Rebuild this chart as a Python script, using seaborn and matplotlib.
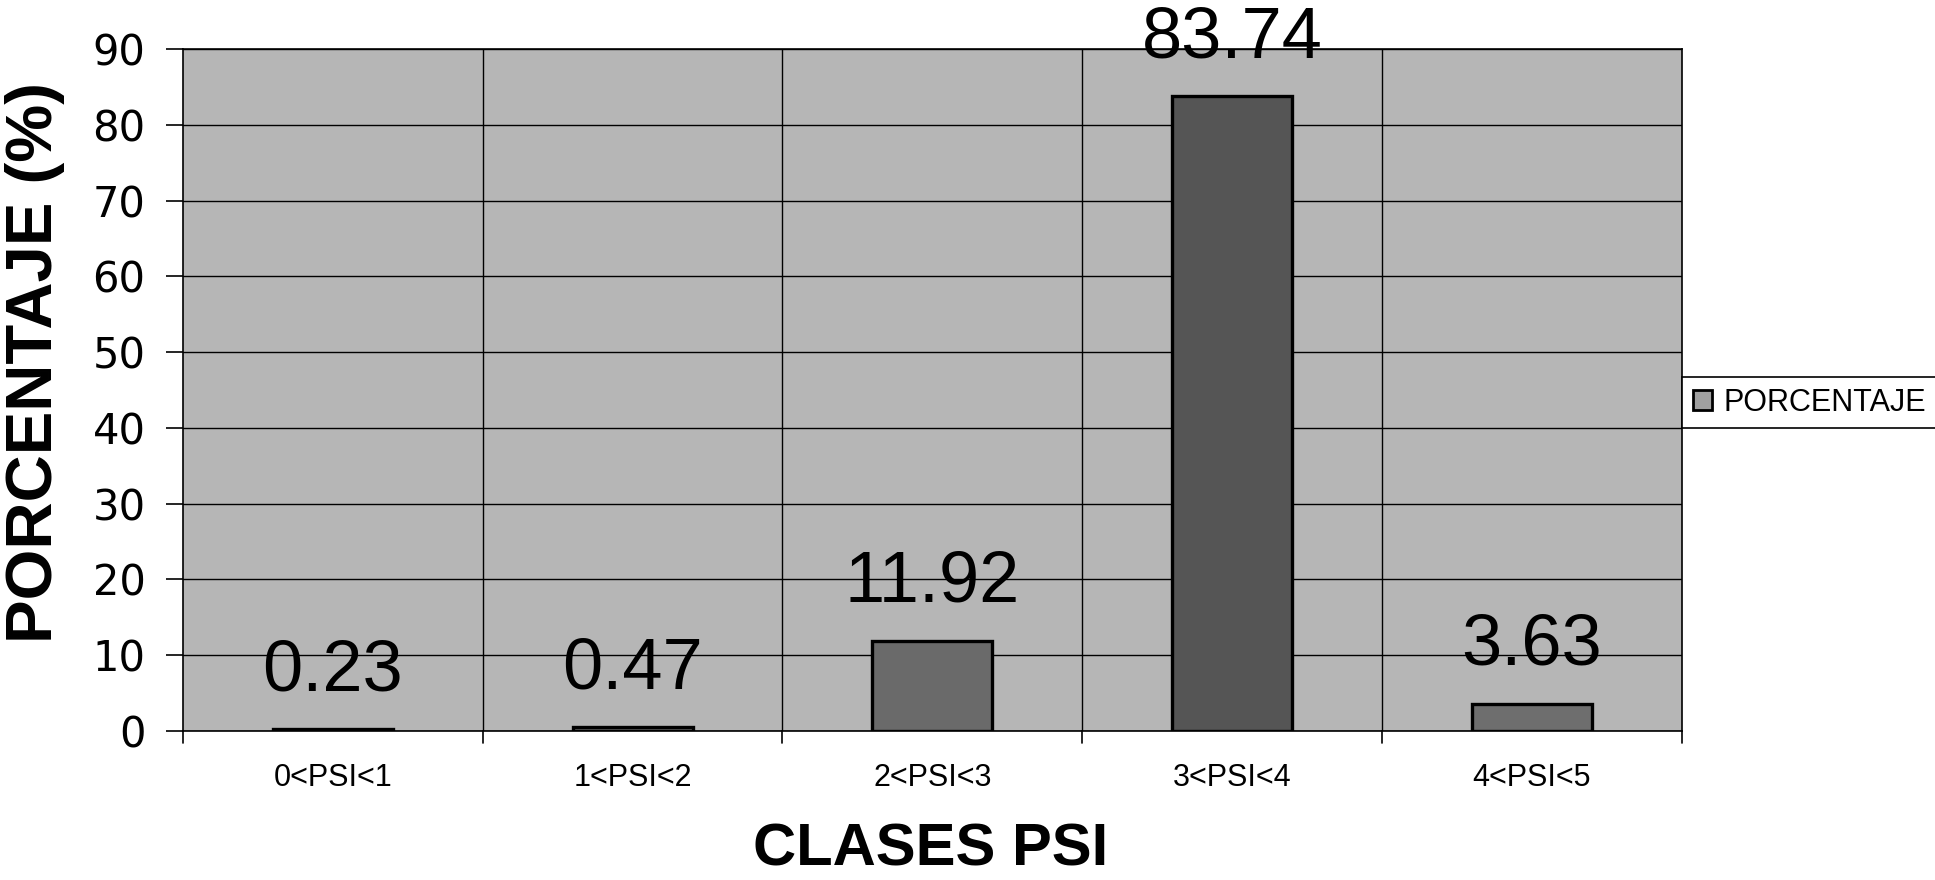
import matplotlib
matplotlib.use("Agg")
import matplotlib.pyplot as plt
import seaborn as sns
import pandas as pd
from matplotlib.patches import Patch

categories = ["0<PSI<1", "1<PSI<2", "2<PSI<3", "3<PSI<4", "4<PSI<5"]
values = [0.23, 0.47, 11.92, 83.74, 3.63]
value_labels = ["0.23", "0.47", "11.92", "83.74", "3.63"]
yticks = [0, 10, 20, 30, 40, 50, 60, 70, 80, 90]
series_name = "PORCENTAJE"

sns.set_theme(style="white")
plt.rcParams["font.family"] = ["Liberation Sans", "DejaVu Sans"]
plt.rcParams["text.color"] = "black"
plt.rcParams["xtick.color"] = "black"
plt.rcParams["ytick.color"] = "black"
plt.rcParams["axes.labelcolor"] = "black"

fig = plt.figure(figsize=(19.35, 8.8), dpi=100)
ax = fig.add_axes([0.0946, 0.1693, 0.869 - 0.0946, 0.9443 - 0.1693])
ax.set_facecolor("#b6b6b6")

df = pd.DataFrame({"clase": categories, "pct": values})
bar_colors = ["#6e6e6e", "#6e6e6e", "#6a6a6a", "#555555", "#6e6e6e"]
sns.barplot(data=df, x="clase", y="pct", hue="clase", palette=bar_colors,
            width=0.4, edgecolor="black", linewidth=2.4, legend=False, ax=ax,
            zorder=3)

ax.set_xlim(-0.5, len(categories) - 0.5)
ax.set_ylim(0, 90)
ax.set_yticks(yticks)
ax.set_yticklabels([str(t) for t in yticks], fontsize=30, family="DejaVu Sans")
ax.set_xticks(range(len(categories)))
ax.set_xticklabels(categories, fontsize=22)
ax.tick_params(axis="x", length=0, pad=23)
ax.tick_params(axis="y", length=12, width=1.2, color="black", left=True, pad=15)

# horizontal grid
ax.yaxis.grid(True, color="black", linewidth=1.0, zorder=1)
ax.set_axisbelow(True)
# vertical separators at category boundaries
for b in [i + 0.5 for i in range(len(categories) - 1)]:
    ax.axvline(b, color="black", linewidth=1.0, zorder=1)
# x ticks at boundaries (below axis)
for b in [i - 0.5 for i in range(len(categories) + 1)]:
    ax.plot([b, b], [0, -1.6], color="black", linewidth=1.2, clip_on=False)

for s in ax.spines.values():
    s.set_visible(True)
    s.set_color("black")
    s.set_linewidth(1.2)

for i, (v, lab) in enumerate(zip(values, value_labels)):
    ax.annotate(lab, xy=(i, v), xytext=(0, 28), textcoords="offset points",
                ha="center", va="baseline", fontsize=52, color="black",
                annotation_clip=False, zorder=5)

ax.set_ylabel("PORCENTAJE (%)", fontsize=47, fontweight="bold",
              ha="left", va="baseline", rotation_mode="anchor")
ax.yaxis.set_label_coords(-0.0874, 0.129)
ax.set_xlabel("CLASES PSI", fontsize=43, fontweight="bold", va="baseline")
ax.xaxis.set_label_coords(0.499, -0.197)

handle = Patch(facecolor="#a0a0a0", edgecolor="black", linewidth=2)
leg = fig.legend([handle], [series_name], loc="center left",
                 bbox_to_anchor=(0.8692, 0.5426), fontsize=22, frameon=True,
                 fancybox=False, edgecolor="black", framealpha=1,
                 borderaxespad=0, handlelength=0.65, handleheight=0.65,
                 handletextpad=0.35, borderpad=0.35)
leg.get_frame().set_linewidth(1.2)

fig.savefig("out.png", dpi=100, facecolor="white")
